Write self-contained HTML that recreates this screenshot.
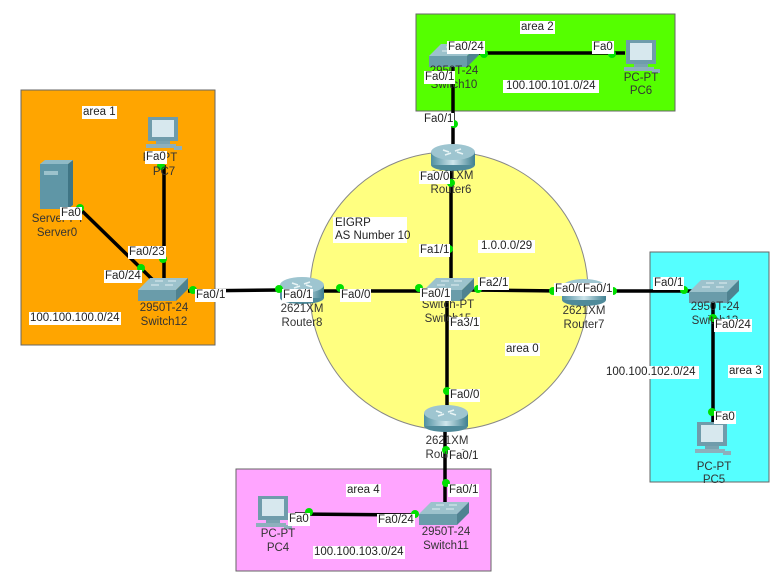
<!DOCTYPE html>
<html><head><meta charset="utf-8"><style>
body{margin:0;width:784px;height:586px;background:#fff;position:relative;overflow:hidden;font-family:"Liberation Sans",sans-serif;font-size:11.5px;color:#222}
svg{position:absolute;left:0;top:0}
.l{position:absolute;background:#fff;padding:0 1px;line-height:13px;white-space:nowrap}
.n{position:absolute;line-height:13px;white-space:nowrap;transform:translateX(-50%);color:#333}
</style></head><body>
<svg width="784" height="586" viewBox="0 0 784 586">
<defs>
<linearGradient id="rg" x1="0" x2="1"><stop offset="0" stop-color="#4f8fa0"/><stop offset="0.5" stop-color="#cfe6ec"/><stop offset="1" stop-color="#3f7f90"/></linearGradient>
<g id="router">
<rect x="-22" y="-5" width="44" height="13" fill="url(#rg)"/>
<ellipse cx="0" cy="8" rx="22" ry="6" fill="#4f8a9a"/>
<rect x="-22" y="-5" width="44" height="13" fill="url(#rg)"/>
<ellipse cx="0" cy="-5" rx="22" ry="8" fill="#9ec5d0"/>
<path d="M-10,-7 l6,2 M10,-3 l-6,-2 M-8,-2 l6,-2 M8,-8 l-6,2" stroke="#e8f4f6" stroke-width="1.5"/>
</g>
<g id="switch">
<polygon points="-25,1 -13,-11 25,-11 13,1" fill="#9cc2cc"/>
<rect x="-25" y="1" width="38" height="11" fill="#6a9caa"/>
<polygon points="13,1 25,-11 25,0 13,12" fill="#4f8290"/>
<path d="M-8,-8 h8 M5,-8 h8 M-12,-4 h8 M2,-4 h8" stroke="#e0eef2" stroke-width="1"/>
</g>
<g id="pc">
<rect x="-16" y="-18" width="30" height="24" fill="#6f9cab"/>
<rect x="-12" y="-15" width="22" height="17" fill="#d7e8ee"/>
<rect x="-8" y="6" width="14" height="3" fill="#7aa3b0"/>
<rect x="-18" y="9" width="30" height="4" fill="#8db0bc"/>
<rect x="10" y="11" width="8" height="4" fill="#8db0bc"/>
</g>
</defs>
<rect x="21" y="90" width="194" height="255" fill="#ffa500" stroke="#666"/>
<rect x="416" y="14" width="259" height="97" fill="#55ff00" stroke="#666"/>
<rect x="650" y="252" width="119" height="230" fill="#55ffff" stroke="#666"/>
<rect x="236" y="469" width="255" height="102" fill="#ffa5ff" stroke="#666"/>
<circle cx="449" cy="291" r="139" fill="#ffff80" stroke="#888"/>
<g stroke="#000" stroke-width="3.5" fill="none">
<line x1="78" y1="207" x2="155" y2="282"/>
<line x1="164" y1="165" x2="164" y2="282"/>
<line x1="188" y1="291" x2="280" y2="290"/>
<line x1="322" y1="291" x2="428" y2="291"/>
<line x1="470" y1="290" x2="562" y2="291"/>
<line x1="606" y1="291" x2="692" y2="291"/>
<line x1="451" y1="168" x2="451" y2="282"/>
<line x1="453" y1="60" x2="453" y2="146"/>
<line x1="447" y1="298" x2="447" y2="410"/>
<line x1="445" y1="428" x2="445" y2="505"/>
<line x1="475" y1="53" x2="625" y2="53"/>
<line x1="713" y1="296" x2="713" y2="425"/>
<line x1="295" y1="514" x2="418" y2="515"/>
</g>
<use href="#router" x="453" y="157"/>
<use href="#router" x="302" y="290"/>
<use href="#router" x="584" y="292"/>
<use href="#router" x="446" y="418"/>
<use href="#switch" x="449" y="289"/>
<use href="#switch" x="163" y="289"/>
<use href="#switch" x="454" y="55"/>
<use href="#switch" x="714" y="291"/>
<use href="#switch" x="444" y="513"/>
<use href="#pc" x="164" y="135"/>
<use href="#pc" x="642" y="58"/>
<use href="#pc" x="713" y="440"/>
<use href="#pc" x="274" y="514"/>
<g>
<rect x="40" y="164" width="28" height="45" fill="#5f96a6"/><polygon points="68,164 73,160 73,205 68,209" fill="#3f7585"/><polygon points="40,164 45,160 73,160 68,164" fill="#8fbac6"/>
<rect x="44" y="171" width="14" height="4" fill="#9cc2cc"/>
</g>
<g fill="#00e000">
<circle cx="80" cy="208" r="4"/><circle cx="161" cy="166" r="4"/><circle cx="163" cy="259" r="4"/><circle cx="141" cy="268" r="4"/>
<circle cx="193" cy="290" r="4"/><circle cx="279" cy="289" r="4"/><circle cx="340" cy="288" r="4"/><circle cx="419" cy="288" r="4"/>
<circle cx="449" cy="249" r="4"/><circle cx="451" cy="183" r="4"/><circle cx="478" cy="289" r="4"/><circle cx="553" cy="291" r="4"/>
<circle cx="613" cy="291" r="4"/><circle cx="684" cy="290" r="4"/><circle cx="713" cy="318" r="4"/><circle cx="712" cy="412" r="4"/>
<circle cx="447" cy="391" r="4"/><circle cx="446" cy="450" r="4"/><circle cx="446" cy="483" r="4"/><circle cx="309" cy="512" r="4"/>
<circle cx="415" cy="514" r="4"/><circle cx="454" cy="124" r="4"/><circle cx="484" cy="54" r="4"/><circle cx="612" cy="54" r="4"/>
</g>
</svg>
<span class="n" style="left:160px;top:152px">PC-PT</span><span class="n" style="left:164px;top:166px">PC7</span>
<span class="n" style="left:58px;top:213px">Server-PT</span><span class="n" style="left:57px;top:227px">Server0</span>
<span class="n" style="left:164px;top:302px">2950T-24</span><span class="n" style="left:164px;top:316px">Switch12</span>
<span class="n" style="left:302px;top:303px">2621XM</span><span class="n" style="left:302px;top:317px">Router8</span>
<span class="n" style="left:452px;top:170px">2621XM</span><span class="n" style="left:451px;top:184px">Router6</span>
<span class="n" style="left:448px;top:299px">Switch-PT</span><span class="n" style="left:448px;top:313px">Switch15</span>
<span class="n" style="left:584px;top:305px">2621XM</span><span class="n" style="left:584px;top:319px">Router7</span>
<span class="n" style="left:447px;top:435px">2621XM</span><span class="n" style="left:446px;top:449px">Router9</span>
<span class="n" style="left:446px;top:526px">2950T-24</span><span class="n" style="left:446px;top:540px">Switch11</span>
<span class="n" style="left:278px;top:528px">PC-PT</span><span class="n" style="left:278px;top:542px">PC4</span>
<span class="n" style="left:454px;top:65px">2950T-24</span><span class="n" style="left:454px;top:79px">Switch10</span>
<span class="n" style="left:641px;top:72px">PC-PT</span><span class="n" style="left:641px;top:85px">PC6</span>
<span class="n" style="left:715px;top:301px">2950T-24</span><span class="n" style="left:715px;top:315px">Switch13</span>
<span class="n" style="left:714px;top:461px">PC-PT</span><span class="n" style="left:714px;top:474px">PC5</span>

<span class="l" style="left:82px;top:106px">area 1</span>
<span class="l" style="left:145px;top:151px">Fa0</span>
<span class="l" style="left:60px;top:207px">Fa0</span>
<span class="l" style="left:128px;top:246px">Fa0/23</span>
<span class="l" style="left:104px;top:270px">Fa0/24</span>
<span class="l" style="left:195px;top:289px">Fa0/1</span>
<span class="l" style="left:29px;top:312px">100.100.100.0/24</span>
<span class="l" style="left:282px;top:289px">Fa0/1</span>
<span class="l" style="left:340px;top:289px">Fa0/0</span>
<span class="l" style="left:333px;top:217px;width:70px;padding:0 2px">EIGRP<br>AS Number 10</span>
<span class="l" style="left:419px;top:171px">Fa0/0</span>
<span class="l" style="left:419px;top:244px">Fa1/1</span>
<span class="l" style="left:478px;top:240px;padding:0 3px">1.0.0.0/29</span>
<span class="l" style="left:420px;top:288px">Fa0/1</span>
<span class="l" style="left:478px;top:277px">Fa2/1</span>
<span class="l" style="left:449px;top:317px">Fa3/1</span>
<span class="l" style="left:554px;top:283px;width:26px;overflow:hidden">Fa0/0</span>
<span class="l" style="left:582px;top:283px">Fa0/1</span>
<span class="l" style="left:505px;top:343px">area 0</span>
<span class="l" style="left:449px;top:389px">Fa0/0</span>
<span class="l" style="left:448px;top:450px">Fa0/1</span>
<span class="l" style="left:448px;top:484px">Fa0/1</span>
<span class="l" style="left:346px;top:484px">area 4</span>
<span class="l" style="left:288px;top:513px">Fa0</span>
<span class="l" style="left:377px;top:514px">Fa0/24</span>
<span class="l" style="left:313px;top:546px">100.100.103.0/24</span>
<span class="l" style="left:520px;top:21px">area 2</span>
<span class="l" style="left:447px;top:41px">Fa0/24</span>
<span class="l" style="left:592px;top:41px">Fa0</span>
<span class="l" style="left:424px;top:71px">Fa0/1</span>
<span class="l" style="left:503px;top:80px;padding:0 3px">100.100.101.0/24</span>
<span class="l" style="left:423px;top:113px">Fa0/1</span>
<span class="l" style="left:653px;top:277px">Fa0/1</span>
<span class="l" style="left:714px;top:319px">Fa0/24</span>
<span class="l" style="left:603px;top:366px;padding:0 3px">100.100.102.0/24</span>
<span class="l" style="left:728px;top:365px">area 3</span>
<span class="l" style="left:714px;top:411px">Fa0</span>
</body></html>
